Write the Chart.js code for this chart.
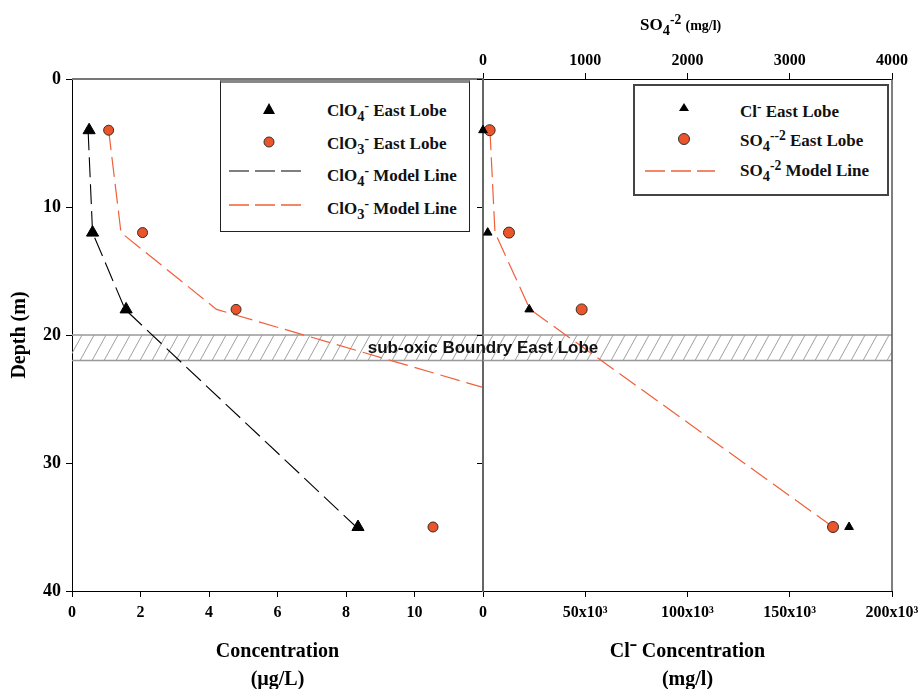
<!DOCTYPE html>
<html>
<head>
<meta charset="utf-8">
<script src="https://cdn.jsdelivr.net/npm/chart.js@4.4.1/dist/chart.umd.min.js"></script>
<style>
body { margin: 0; background: #fff; }
#wrap { position: relative; width: 923px; height: 689px; overflow: hidden; }
canvas { position: absolute; left: 0; top: 0; }
.lg { position: absolute; box-sizing: border-box; background: #fff; font: bold 17px "Liberation Serif", serif; color: #111; }
.row { position: absolute; white-space: nowrap; line-height: 20px; }
.row sub, .ttl sub { font-size: 0.85em; vertical-align: -0.35em; line-height: 0; }
.row sup, .ttl sup { font-size: 0.8em; vertical-align: 0.45em; line-height: 0; }
.sym { position: absolute; }
.ttl { position: absolute; white-space: nowrap; font: bold 17px "Liberation Serif", serif; color: #000; }
</style>
</head>
<body>
<div id="wrap">
  <canvas id="left" width="923" height="689"></canvas>
  <canvas id="right" width="923" height="689"></canvas>

  <div class="ttl" style="left:640px; top:15px;">SO<sub>4</sub><sup>-2</sup> <span style="font-size:14px">(mg/l)</span></div>

  <div class="lg" style="left:220px; top:80px; width:250px; height:152px; border:1.5px solid #222; border-top:3px solid #888;">
    <svg class="sym" style="left:41px; top:19px" width="14" height="13"><polygon points="7,1 13,12 1,12" fill="#000"/></svg>
    <div class="row" style="left:106px; top:18px">ClO<sub>4</sub><sup>-</sup> East Lobe</div>
    <svg class="sym" style="left:41px; top:52px" width="14" height="14"><circle cx="7" cy="7" r="5" fill="#ea552b" stroke="#333" stroke-width="1"/></svg>
    <div class="row" style="left:106px; top:51px">ClO<sub>3</sub><sup>-</sup> East Lobe</div>
    <svg class="sym" style="left:8px; top:86px" width="75" height="4"><line x1="0" y1="2" x2="75" y2="2" stroke="#555" stroke-width="1.5" stroke-dasharray="20 6"/></svg>
    <div class="row" style="left:106px; top:83px">ClO<sub>4</sub><sup>-</sup> Model Line</div>
    <svg class="sym" style="left:8px; top:120px" width="75" height="4"><line x1="0" y1="2" x2="75" y2="2" stroke="#f0603a" stroke-width="1.5" stroke-dasharray="20 6"/></svg>
    <div class="row" style="left:106px; top:116px">ClO<sub>3</sub><sup>-</sup> Model Line</div>
  </div>

  <div class="lg" style="left:633px; top:84px; width:256px; height:112px; border:2px solid #444;">
    <svg class="sym" style="left:43px; top:16px" width="12" height="10"><polygon points="6,1 11,9 1,9" fill="#000"/></svg>
    <div class="row" style="left:105px; top:16px">Cl<sup>-</sup> East Lobe</div>
    <svg class="sym" style="left:42px; top:46px" width="14" height="14"><circle cx="7" cy="7" r="5.5" fill="#ea552b" stroke="#333" stroke-width="1"/></svg>
    <div class="row" style="left:105px; top:45px">SO<sub>4</sub><sup>--2</sup> East Lobe</div>
    <svg class="sym" style="left:10px; top:83px" width="70" height="4"><line x1="0" y1="2" x2="70" y2="2" stroke="#f0603a" stroke-width="1.5" stroke-dasharray="20 6"/></svg>
    <div class="row" style="left:105px; top:75px">SO<sub>4</sub><sup>-2</sup> Model Line</div>
  </div>
</div>

<script>
// depths (m) of the samples
const depth = [4, 12, 18, 35];
// left panel, ug/L
const clo4East = [0.5, 0.6, 1.58, 8.35];
const clo3East = [1.07, 2.06, 4.79, 10.54];
const clo4Model = [0.47, 0.6, 1.55, 8.3];
const clo3Model = [1.07, 1.43, 4.22, 12.0];
const clo3ModelDepth = [4, 12, 18, 24.1];
// right panel, mg/l
const clEast = [0, 2300, 22600, 179000];
const so4East = [65, 254, 965, 3423];
const so4Model = [68, 117, 460, 3423];
// sub-oxic boundary
const bandDepth = [20, 22];
const bandLabel = 'sub-oxic Boundry East Lobe';

const depthTicks = [0, 10, 20, 30, 40];
const leftTicks = [0, 2, 4, 6, 8, 10];
const clTicks = [0, 50000, 100000, 150000, 200000];
const so4Ticks = [0, 1000, 2000, 3000, 4000];

const serif = '"Liberation Serif", "Times New Roman", serif';
const tickFont = {family: serif, weight: 'bold', size: 16};
const titleFont = {family: serif, weight: 'bold', size: 20, lineHeight: 1.4};

function pts(xs, ys) {
    return xs.map((x, i) => ({x: x, y: ys[i]}));
}
function setTicks(list) {
    return function (s) { s.ticks = list.map(v => ({value: v})); };
}
function noPad(s) {
    s.paddingLeft = 0; s.paddingRight = 0; s.paddingTop = 0; s.paddingBottom = 0;
}

const bandPlugin = {
    id: 'band',
    beforeDatasetsDraw(chart, args, opts) {
        const ctx = chart.ctx, a = chart.chartArea, ys = chart.scales.y;
        const y1 = ys.getPixelForValue(bandDepth[0]);
        const y2 = ys.getPixelForValue(bandDepth[1]);
        const h = y2 - y1;
        ctx.save();
        ctx.beginPath();
        ctx.rect(a.left, y1, a.right - a.left, h);
        ctx.clip();
        ctx.strokeStyle = '#a0a0a0';
        ctx.lineWidth = 1;
        ctx.beginPath();
        for (let x = a.left - 40; x < a.right + 40; x += 12) {
            ctx.moveTo(x, y2);
            ctx.lineTo(x + h * 0.55, y1);
        }
        ctx.stroke();
        ctx.restore();

        ctx.save();
        ctx.strokeStyle = '#999';
        ctx.lineWidth = 1.5;
        ctx.beginPath();
        ctx.moveTo(a.left, y1); ctx.lineTo(a.right, y1);
        ctx.moveTo(a.left, y2); ctx.lineTo(a.right, y2);
        ctx.stroke();
        ctx.restore();
    },
    afterDatasetsDraw(chart, args, opts) {
        if (!opts.label) return;
        const ctx = chart.ctx, a = chart.chartArea, ys = chart.scales.y;
        const yc = (ys.getPixelForValue(bandDepth[0]) + ys.getPixelForValue(bandDepth[1])) / 2;
        ctx.save();
        ctx.fillStyle = '#111';
        ctx.font = 'bold 17px "Liberation Sans", Arial, sans-serif';
        ctx.textAlign = 'center';
        ctx.textBaseline = 'middle';
        ctx.fillText(opts.label, a.left, yc + 1);
        ctx.restore();
    }
};

const framePlugin = {
    id: 'frame',
    afterDraw(chart, args, opts) {
        const ctx = chart.ctx, a = chart.chartArea;
        ctx.save();
        if (opts.top) {
            ctx.strokeStyle = '#777';
            ctx.lineWidth = 2;
            ctx.beginPath(); ctx.moveTo(a.left, a.top); ctx.lineTo(a.right, a.top); ctx.stroke();
        }
        if (opts.right) {
            ctx.strokeStyle = '#555';
            ctx.lineWidth = 1.5;
            ctx.beginPath(); ctx.moveTo(a.right, a.top); ctx.lineTo(a.right, a.bottom); ctx.stroke();
        }
        ctx.restore();
    }
};

const tickGrid = {display: true, drawOnChartArea: false, drawTicks: true, tickLength: 6, color: '#000', lineWidth: 1};

// left panel: perchlorate / chlorate
new Chart(document.getElementById('left'), {
    type: 'scatter',
    plugins: [bandPlugin, framePlugin],
    data: {
        datasets: [
            {data: pts(clo4East, depth), pointStyle: 'triangle', pointRadius: 7, backgroundColor: '#000', borderColor: '#000', borderWidth: 1, clip: false},
            {data: pts(clo3East, depth), pointStyle: 'circle', pointRadius: 5, backgroundColor: '#ea552b', borderColor: '#3a2a22', borderWidth: 1, clip: false},
            {data: pts(clo4Model, depth), showLine: true, pointRadius: 0, borderColor: '#000', borderWidth: 1.1, borderDash: [20, 7]},
            {data: pts(clo3Model, clo3ModelDepth), showLine: true, pointRadius: 0, borderColor: '#f0603a', borderWidth: 1.2, borderDash: [20, 7]}
        ]
    },
    options: {
        responsive: false,
        animation: false,
        layout: {padding: {top: 79, right: 440, left: 0, bottom: 0}},
        plugins: {legend: {display: false}, tooltip: {enabled: false}, band: {}, frame: {top: true}},
        scales: {
            x: {
                type: 'linear', min: 0, max: 12,
                afterBuildTicks: setTicks(leftTicks),
                afterFit: s => { s.height = 98; noPad(s); },
                grid: tickGrid,
                border: {display: true, color: '#000', width: 1},
                ticks: {color: '#000', font: tickFont, padding: 6, maxRotation: 0},
                title: {display: true, text: ['Concentration', '(\u00b5g/L)'], color: '#000', font: titleFont, padding: {top: 0, bottom: -5}}
            },
            y: {
                type: 'linear', reverse: true, min: 0, max: 40,
                afterBuildTicks: setTicks(depthTicks),
                afterFit: s => { s.width = 72; noPad(s); },
                grid: tickGrid,
                border: {display: true, color: '#000', width: 1},
                ticks: {color: '#000', font: {family: serif, weight: 'bold', size: 18}, padding: 5},
                title: {display: true, text: 'Depth (m)', color: '#000', font: {family: serif, weight: 'bold', size: 20}, padding: {top: 8, bottom: 0}}
            }
        }
    }
});

// right panel: chloride (bottom axis) and sulfate (top axis)
new Chart(document.getElementById('right'), {
    type: 'scatter',
    plugins: [bandPlugin, framePlugin],
    data: {
        datasets: [
            {data: pts(clEast, depth), xAxisID: 'x', pointStyle: 'triangle', pointRadius: 5, backgroundColor: '#000', borderColor: '#000', borderWidth: 1, clip: false},
            {data: pts(so4East, depth), xAxisID: 'x2', pointStyle: 'circle', pointRadius: 5.5, backgroundColor: '#ea552b', borderColor: '#3a2a22', borderWidth: 1, clip: false},
            {data: pts(so4Model, depth), xAxisID: 'x2', showLine: true, pointRadius: 0, borderColor: '#f0603a', borderWidth: 1.2, borderDash: [20, 7]}
        ]
    },
    options: {
        responsive: false,
        animation: false,
        layout: {padding: {top: 0, right: 31, left: 483, bottom: 0}},
        plugins: {legend: {display: false}, tooltip: {enabled: false}, band: {label: bandLabel}, frame: {right: true}},
        scales: {
            x: {
                type: 'linear', position: 'bottom', min: 0, max: 200000,
                afterBuildTicks: setTicks(clTicks),
                afterFit: s => { s.height = 98; noPad(s); },
                grid: tickGrid,
                border: {display: true, color: '#000', width: 1},
                ticks: {color: '#000', font: tickFont, padding: 6, maxRotation: 0,
                    callback: v => v === 0 ? '0' : (v / 1000) + 'x10\u00b3'},
                title: {display: true, text: ['Cl\u207b Concentration', '(mg/l)'], color: '#000', font: titleFont, padding: {top: 0, bottom: -5}}
            },
            x2: {
                type: 'linear', position: 'top', min: 0, max: 4000,
                afterBuildTicks: setTicks(so4Ticks),
                afterFit: s => { s.height = 79; noPad(s); },
                grid: tickGrid,
                border: {display: true, color: '#000', width: 1},
                ticks: {color: '#000', font: tickFont, padding: 3, maxRotation: 0,
                    callback: v => String(v)}
            },
            y: {
                type: 'linear', position: 'left', reverse: true, min: 0, max: 40,
                afterBuildTicks: setTicks(depthTicks),
                afterFit: s => { s.width = 0; noPad(s); },
                grid: tickGrid,
                border: {display: true, color: '#666', width: 2},
                ticks: {display: false}
            }
        }
    }
});
</script>
</body>
</html>
